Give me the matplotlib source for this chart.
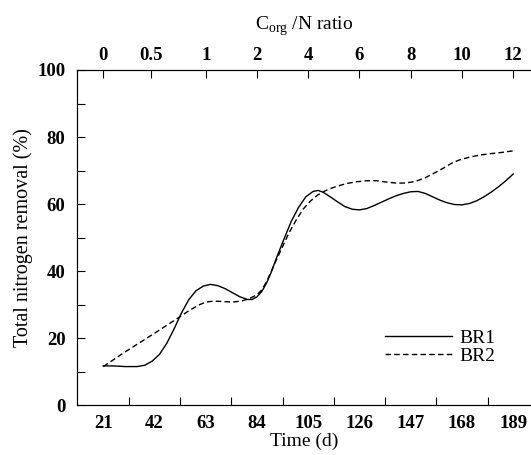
import matplotlib.pyplot as plt

plt.rcParams['font.family'] = 'Liberation Serif'
plt.rcParams['mathtext.fontset'] = 'custom'
plt.rcParams['mathtext.rm'] = 'Liberation Serif'

# Data
days_br1 = [21, 25, 30, 35, 38, 41, 44, 47, 50, 53, 56, 59, 62, 65, 68, 71, 74,
            77, 80, 82, 84, 86, 88, 90, 92, 95, 98, 101, 104, 107, 109, 111, 114,
            117, 120, 123, 126, 129, 132, 135, 138, 141, 144, 147, 150, 153, 156,
            159, 162, 165, 168, 171, 174, 177, 180, 183, 186, 189]
br1 = [11.8, 11.8, 11.6, 11.6, 12.0, 13.2, 15.2, 18.5, 22.8, 27.5, 31.5, 34.2,
       35.6, 36.1, 35.7, 34.8, 33.6, 32.4, 31.6, 31.6, 32.4, 34.0, 36.6, 40.0,
       44.0, 49.5, 54.8, 59.0, 62.2, 63.8, 64.1, 63.6, 62.2, 60.7, 59.3, 58.5,
       58.3, 58.7, 59.6, 60.6, 61.6, 62.5, 63.2, 63.7, 63.8, 63.2, 62.2, 61.2,
       60.4, 59.9, 59.8, 60.2, 61.0, 62.2, 63.6, 65.2, 67.0, 69.0]

days_br2 = [21, 30, 40, 50, 56, 60, 63, 66, 70, 74, 78, 81, 84, 86, 88, 91, 94,
            97, 100, 103, 106, 109, 112, 115, 118, 121, 125, 129, 133, 137, 141,
            145, 149, 153, 157, 161, 164, 167, 171, 175, 179, 184, 189]
br2 = [11.6, 16.0, 20.6, 25.3, 28.2, 29.9, 30.8, 31.1, 31.0, 30.8, 31.2, 31.9,
       33.0, 34.5, 37.0, 41.9, 46.6, 51.3, 55.2, 58.6, 61.0, 62.8, 64.0, 64.9,
       65.6, 66.2, 66.7, 67.0, 67.0, 66.6, 66.3, 66.3, 66.8, 67.9, 69.4, 71.0,
       72.3, 73.2, 74.0, 74.6, 75.0, 75.4, 75.9]

time_ticks = [21, 42, 63, 84, 105, 126, 147, 168, 189]
time_minor = [31.5, 52.5, 73.5, 94.5, 115.5, 136.5, 157.5, 178.5]
ratio_pos = [21, 40.5, 63, 84, 105, 126, 147, 168, 189]
ratio_labels = ["0", "0.5", "1", "2", "4", "6", "8", "10", "12"]
y_ticks = [0, 20, 40, 60, 80, 100]
y_minor = [10, 30, 50, 70, 90]

fig = plt.figure(figsize=(5.31, 4.55), dpi=100)
ax = fig.add_axes([0.1444, 0.1088, 0.8556, 0.7374])

ax.plot(days_br1, br1, color='black', lw=1.0, label='BR1')
ax.plot(days_br2, br2, color='black', lw=1.0, dashes=(4.0, 2.3), label='BR2')

ax.set_xlim(10.1, 196.3)
ax.set_ylim(0, 100)
ax.spines['right'].set_visible(False)

ax.set_xticks(time_ticks)
ax.set_xticklabels([str(t) for t in time_ticks], fontweight='bold')
ax.set_xticks(time_minor, minor=True)
ax.tick_params(axis='x', which='major', length=0, pad=7, labelsize=13.5)
ax.tick_params(axis='x', which='minor', direction='in', length=6, width=0.8)

ax.set_yticks(y_ticks)
ax.set_yticklabels([str(t) for t in y_ticks], fontweight='bold')
ax.set_yticks(y_minor, minor=True)
ax.tick_params(axis='y', which='both', direction='in', length=6, width=0.8,
               pad=8, labelsize=13.5)

ax.set_xlabel('Time (d)', fontsize=14, labelpad=0)
ax.set_ylabel('Total nitrogen removal (%)', fontsize=14.5, labelpad=3)

top = ax.twiny()
top.set_xlim(ax.get_xlim())
top.set_xticks(ratio_pos)
top.set_xticklabels(ratio_labels, fontweight='bold')
top.tick_params(axis='x', direction='in', length=6, width=0.8, pad=4, labelsize=13.5)
top.spines['right'].set_visible(False)
top.set_xlabel(r'C$_{\rm org}$ /N ratio', fontsize=14, labelpad=13)

ax.legend(loc='upper left', bbox_to_anchor=(0.678, 0.228), frameon=False,
          fontsize=14, handlelength=3.45, handletextpad=0.4, labelspacing=0.05,
          borderaxespad=0, borderpad=0)

fig.savefig('out.png', dpi=100)
